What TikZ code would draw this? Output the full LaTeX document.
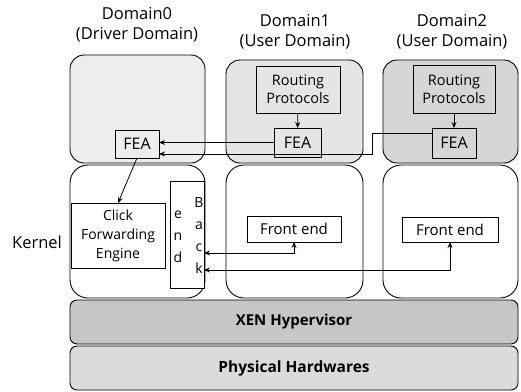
\documentclass[tikz,border=0pt]{standalone}
\usepackage{fontspec}
\setmainfont{Open Sans}
\usetikzlibrary{arrows.meta}
\begin{document}
\begin{tikzpicture}[x=1pt,y=-1pt,
  every node/.style={inner sep=0pt,outer sep=0pt},
  userbox/.style={draw,line width=0.9pt,rounded corners=14pt},
  kernbox/.style={draw,line width=0.9pt,rounded corners=18pt,fill=white},
  barbox/.style={draw,line width=0.9pt,rounded corners=7pt,font=\bfseries\fontsize{15}{18}\selectfont},
  inbox/.style={draw,line width=0.9pt,align=center,font=\fontsize{14}{18}\selectfont},
  lbl/.style={align=center,font=\fontsize{16.5}{20}\selectfont},
  arr/.style={line width=0.8pt,-{Stealth[length=6pt,width=5pt]}},
  darr/.style={line width=0.8pt,{Stealth[length=6pt,width=5pt]}-{Stealth[length=6pt,width=5pt]}}
]
\useasboundingbox (0,0) rectangle (521,391);
% labels
\node[lbl] (l0) at (137,25) {Domain0\\(Driver Domain)};
\node[lbl] (l1) at (295,32) {Domain1\\(User Domain)};
\node[lbl] (l2) at (452,32) {Domain2\\(User Domain)};
\node[font=\fontsize{16.5}{20}\selectfont] (kl) at (37,242) {Kernel};
% user-level boxes
\node[userbox,fill=gray!14,minimum width=135pt,minimum height=108pt] (d0) at (137.5,109) {};
\node[userbox,fill=gray!20,minimum width=137pt,minimum height=103pt] (d1) at (294.5,111.5) {};
\node[userbox,fill=gray!32,minimum width=135pt,minimum height=103pt] (d2) at (450.5,111.5) {};
% kernel boxes
\node[kernbox,minimum width=135pt,minimum height=133pt] (k0) at (137.5,231.5) {};
\node[kernbox,minimum width=137pt,minimum height=133pt] (k1) at (294.5,231.5) {};
\node[kernbox,minimum width=135pt,minimum height=133pt] (k2) at (450.5,231.5) {};
% bars
\node[barbox,fill=gray!45,minimum width=448pt,minimum height=44pt] (xen) at (294,322) {XEN Hypervisor};
\node[barbox,fill=gray!28,minimum width=448pt,minimum height=44pt,font=\bfseries\fontsize{15.5}{18}\selectfont] (hw) at (294,368) {Physical Hardwares};
% inner boxes
\node[inbox,fill=gray!14,minimum width=44pt,minimum height=28pt,font=\fontsize{16}{18}\selectfont] (fea0) at (137,144) {FEA};
\node[inbox,fill=gray!20,minimum width=47pt,minimum height=29pt,font=\fontsize{16}{18}\selectfont] (fea1) at (297.5,142.5) {FEA};
\node[inbox,fill=gray!32,minimum width=44pt,minimum height=30pt,font=\fontsize{16}{18}\selectfont] (fea2) at (454,143) {FEA};
\node[inbox,fill=gray!20,minimum width=84pt,minimum height=47pt,font=\fontsize{14.5}{18}\selectfont] (rp1) at (298,89.5) {Routing\\Protocols};
\node[inbox,fill=gray!32,minimum width=82pt,minimum height=48pt,font=\fontsize{14.5}{18}\selectfont] (rp2) at (454,89) {Routing\\Protocols};
\node[inbox,fill=white,minimum width=94pt,minimum height=65pt,font=\fontsize{14}{19}\selectfont] (click) at (118,235.5) {Click\\Forwarding\\Engine};
\node[inbox,fill=white,minimum width=34pt,minimum height=107pt] (be) at (187,234.5) {};
\node[align=center,font=\fontsize{14}{22}\selectfont] (back) at (199,235.5) {B\\a\\c\\k};
\node[align=center,font=\fontsize{14}{22}\selectfont] (endt) at (178,236.5) {e\\n\\d};
\node[inbox,fill=white,minimum width=94pt,minimum height=26pt,font=\fontsize{15}{18}\selectfont] (fe1) at (294,229) {Front end};
\node[inbox,fill=white,minimum width=96pt,minimum height=25pt,font=\fontsize{15}{18}\selectfont] (fe2) at (450,229.5) {Front end};
% connectors
\draw[arr] (rp1) -- (fea1);
\draw[arr] (rp2) -- (fea2);
\draw[arr] (fea1.west) -- (fea1.west -| fea0.east);
\coordinate (c1) at (372,133);
\coordinate (c2) at (372,154);
\draw[arr] ([yshift=10pt]fea2.west) -- (c1) -- (c2) -- (c2 -| fea0.east);
\draw[arr] (fea0.south) -- (click.north);
\draw[darr] ([yshift=-18.5pt]be.east) -| (fe1.south);
\draw[darr] ([yshift=-35.5pt]be.east) -| (fe2.south);
\end{tikzpicture}
\end{document}
